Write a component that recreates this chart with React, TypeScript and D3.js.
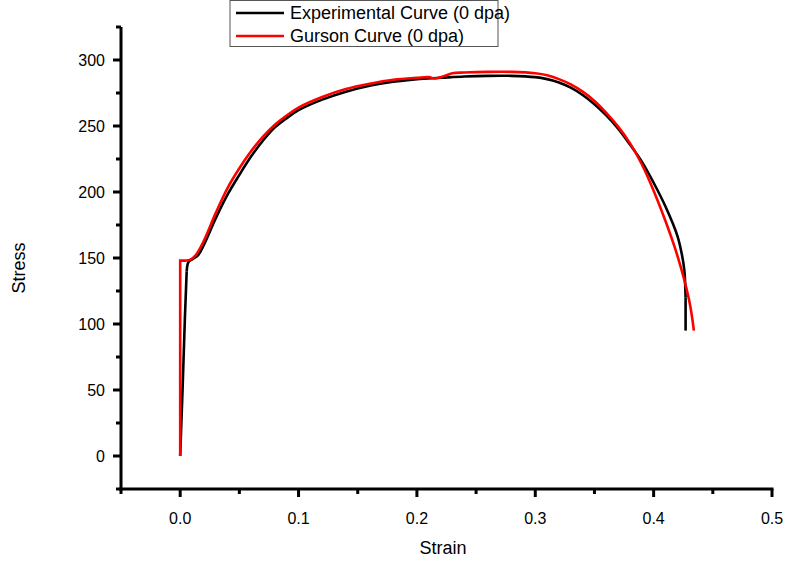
import React from "react";
import * as d3 from "d3";

const expStrain = [0, 0.002, 0.004, 0.0055, 0.007, 0.01, 0.015, 0.02, 0.03, 0.04, 0.05, 0.06, 0.07, 0.08, 0.09, 0.1, 0.12, 0.14, 0.16, 0.18, 0.2, 0.22, 0.24, 0.26, 0.28, 0.3, 0.31, 0.32, 0.33, 0.34, 0.35, 0.36, 0.37, 0.38, 0.39, 0.4, 0.41, 0.42, 0.424, 0.426, 0.427, 0.427];
const expStress = [0, 50, 105, 140, 147, 149, 152, 160, 180, 198, 213, 227, 239, 249, 256, 262, 270, 276, 280.5, 283.5, 285.5, 286.5, 287.5, 288, 288, 287, 285.5, 283, 279, 273.5, 266.5, 258, 248, 236, 223, 207, 189, 167, 152, 140, 120, 95];

const gurStrain = [0, 0, 0.005, 0.009, 0.013, 0.02, 0.03, 0.04, 0.05, 0.06, 0.07, 0.08, 0.09, 0.1, 0.12, 0.14, 0.16, 0.18, 0.2, 0.21, 0.215, 0.22, 0.225, 0.23, 0.24, 0.26, 0.28, 0.3, 0.31, 0.32, 0.33, 0.34, 0.35, 0.36, 0.37, 0.38, 0.39, 0.4, 0.41, 0.42, 0.43, 0.434];
const gurStress = [0, 148, 148, 149, 152, 163, 184, 203, 218, 231, 242, 251, 258, 264, 272, 278, 282, 285, 286.5, 287, 286, 287, 288.5, 290, 290.5, 291, 291, 290, 288.5, 285.5, 281.5, 276, 269, 260, 249.5, 237, 221, 201, 178, 152, 118, 95];

const xTicks = [0, 0.1, 0.2, 0.3, 0.4, 0.5];
const yTicks = [0, 50, 100, 150, 200, 250, 300];
const legendLabels = ["Experimental Curve (0 dpa)", "Gurson Curve (0 dpa)"];

export default function App() {
  const W = 791, H = 565;
  const x = d3.scaleLinear().domain([-0.05, 0.5]).range([121, 772]);
  const y = d3.scaleLinear().domain([-25, 325]).range([489, 27]);
  const smooth = d3.line<[number, number]>().x(d => x(d[0])).y(d => y(d[1])).curve(d3.curveCatmullRom.alpha(0.5));
  const straight = d3.line<[number, number]>().x(d => x(d[0])).y(d => y(d[1]));
  const expPts = expStrain.map((s, i) => [s, expStress[i]] as [number, number]);
  const gurPts = gurStrain.map((s, i) => [s, gurStress[i]] as [number, number]);
  const minorX = d3.range(-0.05, 0.501, 0.05).filter(v => Math.abs(Math.round(v * 10) - v * 10) > 0.01);
  const minorY = d3.range(-25, 326, 25).filter(v => v % 50 !== 0);
  const font = "Arial, 'Liberation Sans', sans-serif";
  const n = expPts.length;
  return (
    <svg width={W} height={H} style={{ position: "absolute", left: 0, top: 0, background: "#fff" }} fontFamily={font}>
      <path d={straight(expPts.slice(0, 4)) || ""} fill="none" stroke="#000" strokeWidth={2.6} />
      <path d={smooth(expPts.slice(3, n - 1)) || ""} fill="none" stroke="#000" strokeWidth={2.6} strokeLinejoin="round" />
      <path d={straight(expPts.slice(n - 2)) || ""} fill="none" stroke="#000" strokeWidth={2.6} />
      <path d={straight(gurPts.slice(0, 3)) || ""} fill="none" stroke="#ff0000" strokeWidth={2.6} />
      <path d={smooth(gurPts.slice(2)) || ""} fill="none" stroke="#ff0000" strokeWidth={2.6} strokeLinejoin="round" />
      <line x1={121} x2={121} y1={y(325)} y2={y(-25) + 1.5} stroke="#000" strokeWidth={3} />
      <line x1={x(-0.05) - 1.5} x2={x(0.5) + 1.5} y1={489} y2={489} stroke="#000" strokeWidth={3} />
      {xTicks.map(t => (
        <g key={"xt" + t}>
          <line x1={x(t)} x2={x(t)} y1={489} y2={497} stroke="#000" strokeWidth={3} />
          <text x={x(t)} y={524} textAnchor="middle" fontSize={16}>{t.toFixed(1)}</text>
        </g>
      ))}
      {minorX.map(t => (
        <line key={"mx" + t} x1={x(t)} x2={x(t)} y1={489} y2={494} stroke="#000" strokeWidth={3} />
      ))}
      {yTicks.map(t => (
        <g key={"yt" + t}>
          <line x1={113} x2={121} y1={y(t)} y2={y(t)} stroke="#000" strokeWidth={3} />
          <text x={105} y={y(t) + 6} textAnchor="end" fontSize={16}>{t}</text>
        </g>
      ))}
      {minorY.map(t => (
        <line key={"my" + t} x1={116} x2={121} y1={y(t)} y2={y(t)} stroke="#000" strokeWidth={3} />
      ))}
      <text x={443} y={554} textAnchor="middle" fontSize={18}>Strain</text>
      <text transform={`translate(25,268) rotate(-90)`} textAnchor="middle" fontSize={18}>Stress</text>
      <rect x={230} y={0.5} width={268} height={46} fill="#fff" stroke="#555" strokeWidth={1} />
      {legendLabels.map((l, i) => (
        <g key={l}>
          <line x1={236} x2={284} y1={13 + i * 23} y2={13 + i * 23} stroke={i === 0 ? "#000" : "#ff0000"} strokeWidth={2.6} />
          <text x={290} y={19 + i * 23} fontSize={18}>{l}</text>
        </g>
      ))}
    </svg>
  );
}
